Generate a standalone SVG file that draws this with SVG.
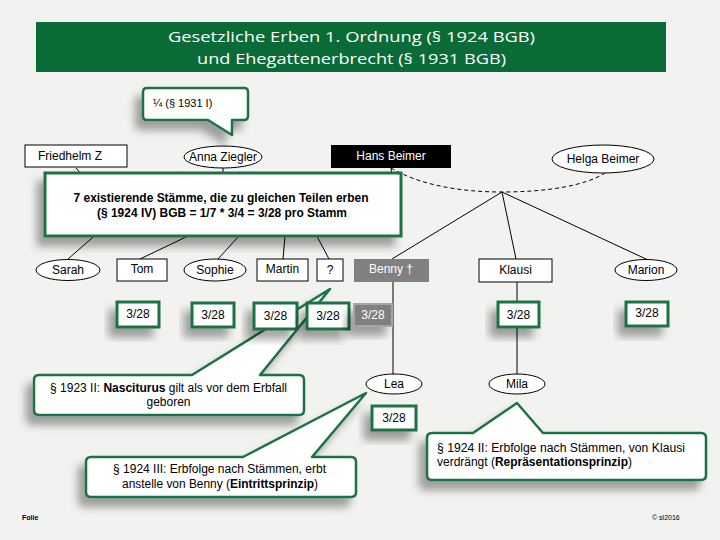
<svg xmlns="http://www.w3.org/2000/svg" width="720" height="540" viewBox="0 0 720 540">
<defs>
<filter id="sh" x="-30%" y="-40%" width="160%" height="200%">
<feDropShadow dx="-7" dy="9" stdDeviation="4" flood-color="#000" flood-opacity="0.35"/>
</filter>
<style>
text{font-family:"Liberation Sans",Arial,sans-serif;font-size:12px;fill:#000}
.c{text-anchor:middle}
.w{fill:#fff}
.b{font-weight:bold}
.node{fill:#fff;stroke:#000;stroke-width:1}
.share{fill:#fff;stroke:#1e7145;stroke-width:3;filter:url(#sh)}
.call{fill:#fff;stroke:#1e7145;stroke-width:2.5;stroke-linejoin:round;filter:url(#sh)}
.ln{stroke:#000;stroke-width:1;fill:none}
</style>
</defs>
<rect width="720" height="540" fill="#f2f2f1"/>

<g id="header">
<rect x="36" y="22" width="630" height="50" fill="#0a6b37"/>
<text x="351.5" y="42" class="c w" style="font-family:'Open Sans',sans-serif;font-size:15px" textLength="367" lengthAdjust="spacingAndGlyphs">Gesetzliche Erben 1. Ordnung (§ 1924 BGB)</text>
<text x="351.5" y="64" class="c w" style="font-family:'Open Sans',sans-serif;font-size:15px" textLength="309" lengthAdjust="spacingAndGlyphs">und Ehegattenerbrecht (§ 1931 BGB)</text>
</g>

<g id="connectors">
<path class="ln" d="M76,168 L92,186"/>
<path class="ln" d="M223,167 L223,182"/>
<path class="ln" d="M391,168 L392,175"/>
<path class="ln" stroke-dasharray="4,3" d="M391,168 C420,185 460,192 502,192 C545,192 585,186 605,173"/>
<path class="ln" d="M107,225 L68,259"/>
<path class="ln" d="M211,225 L140,259"/>
<path class="ln" d="M249,225 L218,259"/>
<path class="ln" d="M286,225 L283,259"/>
<path class="ln" d="M311,225 L329,259"/>
<path class="ln" d="M502,192 L392,259"/>
<path class="ln" d="M502,192 L516,259"/>
<path class="ln" d="M502,192 L646,259"/>
<path class="ln" d="M393,282 L393,375"/>
<path class="ln" d="M517,282 L517,374"/>
</g>

<g id="friedhelm">
<rect class="node" x="25" y="145" width="102" height="22"/>
<text x="38" y="160">Friedhelm Z</text>
<text x="112" y="160" class="w">†</text>
</g>
<g id="anna">
<ellipse class="node" cx="223" cy="157" rx="39" ry="11"/>
<text x="223" y="161" class="c">Anna Ziegler</text>
</g>
<g id="hans">
<rect x="331" y="145" width="120" height="23" fill="#000"/>
<text x="391" y="160" class="c w">Hans Beimer</text>
</g>
<g id="helga">
<ellipse class="node" cx="603" cy="159" rx="51" ry="14"/>
<text x="603" y="163" class="c">Helga Beimer</text>
</g>

<g id="sarah">
<ellipse class="node" cx="68" cy="270" rx="32" ry="10.5"/>
<text x="68" y="274" class="c">Sarah</text>
</g>
<g id="tom">
<rect class="node" x="117" y="259" width="50" height="22"/>
<text x="142" y="273" class="c">Tom</text>
</g>
<g id="sophie">
<ellipse class="node" cx="215" cy="270" rx="31" ry="11"/>
<text x="215" y="274" class="c">Sophie</text>
</g>
<g id="martin">
<rect class="node" x="257" y="259" width="51" height="22"/>
<text x="282.5" y="273" class="c">Martin</text>
</g>
<g id="unknown">
<rect class="node" x="317" y="259" width="26" height="22"/>
<text x="330" y="274" class="c">?</text>
</g>
<g id="benny">
<rect x="354" y="259" width="75" height="23" fill="#808080"/>
<text x="391" y="273" class="c w">Benny †</text>
</g>
<g id="klausi">
<rect class="node" x="479" y="259" width="73" height="23"/>
<text x="515.5" y="274" class="c">Klausi</text>
</g>
<g id="marion">
<ellipse class="node" cx="646" cy="270" rx="31" ry="10.5"/>
<text x="646" y="274" class="c">Marion</text>
</g>
<g id="lea">
<ellipse class="node" cx="394" cy="384" rx="28" ry="10"/>
<text x="394" y="388" class="c">Lea</text>
</g>
<g id="mila">
<ellipse class="node" cx="517" cy="384" rx="28" ry="10"/>
<text x="517" y="388" class="c">Mila</text>
</g>

<g id="callout-nasciturus">
<path class="call" d="M39,375 L192,375 L330,289 L260,375 L299,375 Q304,375 304,380 L304,410 Q304,415 299,415 L39,415 Q34,415 34,410 L34,380 Q34,375 39,375 Z"/>
<text x="168.5" y="392" class="c" textLength="237" lengthAdjust="spacingAndGlyphs">§ 1923 II: <tspan class="b">Nasciturus</tspan> gilt als vor dem Erbfall</text>
<text x="168.5" y="406" class="c">geboren</text>
</g>

<g id="share-tom"><rect class="share" x="117" y="302" width="42" height="25"/><text x="138" y="318" class="c">3/28</text></g>
<g id="share-sophie"><rect class="share" x="192" y="303" width="42" height="24"/><text x="213" y="319" class="c">3/28</text></g>
<g id="share-martin"><rect class="share" x="254" y="303" width="43" height="26"/><text x="275.5" y="320" class="c">3/28</text></g>
<g id="share-unknown"><rect class="share" x="307" y="303" width="42" height="26"/><text x="328" y="320" class="c">3/28</text></g>
<g id="share-benny"><rect x="354" y="304" width="38" height="22" fill="#808080" stroke="#a6a6a6" stroke-width="2" filter="url(#sh)"/><text x="373" y="319" class="c w">3/28</text></g>
<g id="share-klausi"><rect class="share" x="498" y="302" width="41" height="25"/><text x="518.5" y="319" class="c">3/28</text></g>
<g id="share-marion"><rect class="share" x="626" y="302" width="42" height="24"/><text x="647" y="317" class="c">3/28</text></g>
<g id="share-lea"><rect class="share" x="372" y="406" width="44" height="24"/><text x="394" y="422" class="c">3/28</text></g>

<g id="callout-quarter">
<path class="call" d="M147,88 L244,88 Q248,88 248,92 L248,116 Q248,120 244,120 L232,120 L232,135 L208,120 L147,120 Q143,120 143,116 L143,92 Q143,88 147,88 Z"/>
<text x="153" y="107" style="font-size:11px">¼ (§ 1931 I)</text>
</g>

<g id="callout-staemme">
<rect x="45" y="173" width="356" height="63" fill="#fff" stroke="#1e7145" stroke-width="3" filter="url(#sh)"/>
<text x="221" y="202" class="c b" textLength="295" lengthAdjust="spacingAndGlyphs">7 existierende Stämme, die zu gleichen Teilen erben</text>
<text x="222" y="217" class="c b" textLength="250" lengthAdjust="spacingAndGlyphs">(§ 1924 IV) BGB = 1/7 * 3/4 = 3/28 pro Stamm</text>
</g>

<g id="callout-eintritt">
<path class="call" d="M91,457 L243,457 L366,393 L312,457 L351,457 Q356,457 356,462 L356,492 Q356,497 351,497 L91,497 Q86,497 86,492 L86,462 Q86,457 91,457 Z"/>
<text x="219.5" y="473" class="c" textLength="213" lengthAdjust="spacingAndGlyphs">§ 1924 III: Erbfolge nach Stämmen, erbt</text>
<text x="220" y="488" class="c" textLength="196" lengthAdjust="spacingAndGlyphs">anstelle von Benny (<tspan class="b">Eintrittsprinzip</tspan>)</text>
</g>

<g id="callout-repraesentation">
<path class="call" d="M432,433 L473,433 L517,403 L543,433 L701,433 Q706,433 706,438 L706,475 Q706,480 701,480 L432,480 Q427,480 427,475 L427,438 Q427,433 432,433 Z"/>
<text x="437" y="452" textLength="248" lengthAdjust="spacingAndGlyphs">§ 1924 II:  Erbfolge nach Stämmen, von Klausi</text>
<text x="437" y="466" textLength="195" lengthAdjust="spacingAndGlyphs">verdrängt (<tspan class="b">Repräsentationsprinzip</tspan>)</text>
</g>

<g id="footer">
<text x="22" y="520" class="b" style="font-size:7px">Folie</text>
<text x="652" y="520" style="font-size:7px">© sl2016</text>
</g>
</svg>
